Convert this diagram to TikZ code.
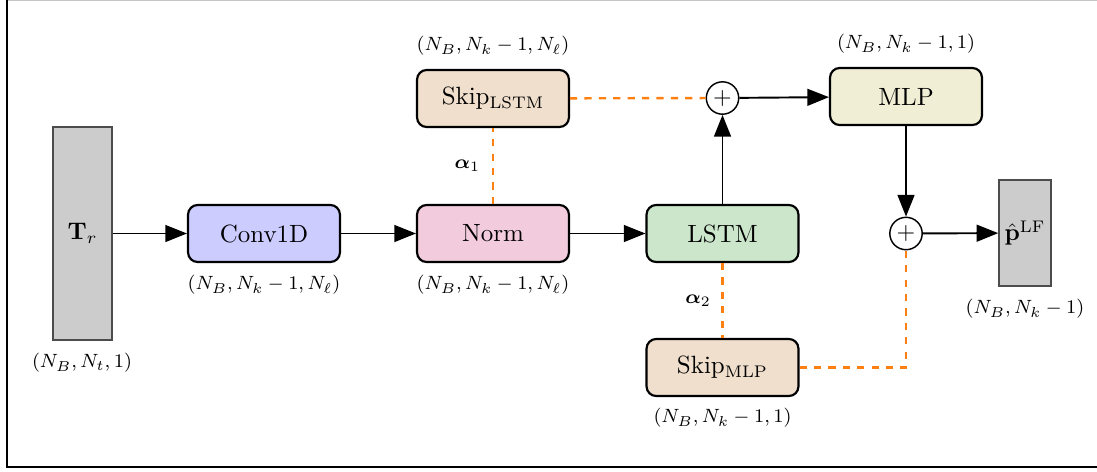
\documentclass[tikz,border=0pt]{standalone}
\usepackage{amsmath,bm}
\usetikzlibrary{arrows.meta,positioning}
\definecolor{convfill}{HTML}{CCCCFF}
\definecolor{normfill}{HTML}{F2CCDD}
\definecolor{lstmfill}{HTML}{CCE6CC}
\definecolor{skipfill}{HTML}{EFDFCC}
\definecolor{mlpfill}{HTML}{F0EFD6}
\definecolor{skiporange}{HTML}{FF8010}
\begin{document}
\begin{tikzpicture}[x=0.41667pt,y=-0.41667pt,
  block/.style={draw, line width=0.9pt, rounded corners=4pt,
    minimum width=63.3pt, minimum height=23.75pt, inner sep=0pt,
    font=\fontsize{10.4}{12.5}\selectfont},
  tensor/.style={draw=black!70, fill=black!20, line width=0.6pt, inner sep=0pt,
    font=\fontsize{10.4}{12.5}\selectfont},
  dim/.style={font=\fontsize{8.4}{10}\selectfont},
  weight/.style={left, font=\fontsize{8.4}{10}\selectfont},
  sum/.style={draw, circle, line width=0.6pt, minimum size=13.5pt, inner sep=0pt},
  flow/.style={line width=0.8pt, -{Triangle[length=9pt,width=7pt]}},
  skipline/.style={draw=skiporange, dashed, line width=1pt}]
  \useasboundingbox (0,0) rectangle (1097,471);

  % frame
  \draw[gray!45, line width=0.5pt] (7,0.6) -- (1097,0.6);
  \draw[line width=1pt] (7,0) -- (7,467) -- (1100,467);

  % tensors and blocks
  \node[tensor, minimum width=24.6pt, minimum height=88.75pt] (Tr) at (82.5,233.5) {$\mathbf{T}_r$};
  \node[block, fill=convfill] (conv) at (264,233.5) {Conv1D};
  \node[block, fill=normfill] (norm) at (493,233.5) {Norm};
  \node[block, fill=lstmfill] (lstm) at (722.5,233.5) {LSTM};
  \node[block, fill=skipfill] (skipl) at (493,98.5) {Skip$_{\mathrm{LSTM}}$};
  \node[block, fill=mlpfill] (mlp) at (906,96.5) {MLP};
  \node[block, fill=skipfill] (skipm) at (722.5,367.5) {Skip$_{\mathrm{MLP}}$};
  \node[sum] (s1) at (722.5,98) {$+$};
  \node[sum] (s2) at (906,233.5) {$+$};
  \node[tensor, minimum width=21.7pt, minimum height=44.2pt] (p) at (1025,233) {$\hat{\mathbf{p}}^{\mathrm{LF}}$};

  % tensor shapes
  \node[dim] (dTr) at (82,363) {$(N_B, N_t, 1)$};
  \node[dim] (dconv) at (264,285) {$(N_B, N_k-1, N_\ell)$};
  \node[dim] (dnorm) at (493,285) {$(N_B, N_k-1, N_\ell)$};
  \node[dim] (dskipl) at (493,46) {$(N_B, N_k-1, N_\ell)$};
  \node[dim] (dmlp) at (906,44) {$(N_B, N_k-1, 1)$};
  \node[dim] (dskipm) at (722.5,418) {$(N_B, N_k-1, 1)$};
  \node[dim] (dp) at (1025,309) {$(N_B, N_k-1)$};

  % skip connections
  \draw[skipline] (norm) -- node[weight, xshift=-1.5pt] (a1) {$\bm{\alpha}_1$} (skipl);
  \draw[skipline] (skipl) -- (s1);
  \draw[skipline] (lstm) -- node[weight, xshift=-1pt] (a2) {$\bm{\alpha}_2$} (skipm);
  \draw[skipline] (skipm.east) -| (s2.south);

  % main data flow
  \draw[flow] (Tr) -- (conv);
  \draw[flow] (conv) -- (norm);
  \draw[flow] (norm) -- (lstm);
  \draw[flow] (lstm) -- (s1);
  \draw[flow] (s1) -- (mlp);
  \draw[flow] (mlp) -- (s2);
  \draw[flow] (s2) -- (p);
\end{tikzpicture}
\end{document}
